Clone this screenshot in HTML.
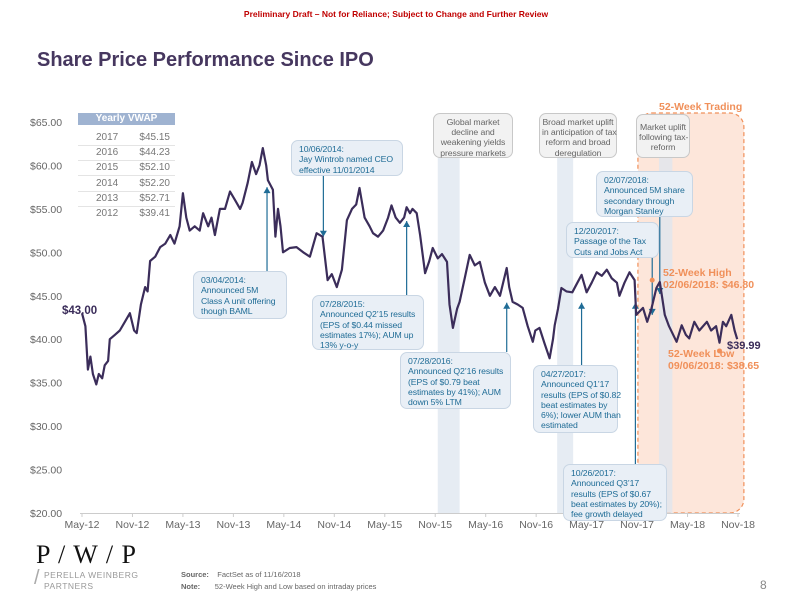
<!DOCTYPE html>
<html><head><meta charset="utf-8">
<style>
body{margin:0;width:792px;height:612px;position:relative;background:#fff;font-family:"Liberation Sans",sans-serif;overflow:hidden}
.a{position:absolute}
.box{position:absolute;background:#e9eff6;border:1px solid #c9d6e4;border-radius:7px;color:#1f6c96;font-size:8.7px;line-height:10.3px;padding:3px 5px 3px 7px;box-sizing:border-box;white-space:nowrap;letter-spacing:-0.1px}
.gbox{position:absolute;background:#f2f2f2;border:1px solid #c8c8c8;border-radius:7px;color:#666;font-size:8.7px;line-height:10.2px;text-align:center;padding:3px 2px;box-sizing:border-box;white-space:nowrap;letter-spacing:-0.1px}
.org{color:#f0905a;font-weight:bold;font-size:10.5px;position:absolute;line-height:12px;white-space:nowrap}
</style></head><body>
<div class="a" style="left:0;width:792px;top:9px;text-align:center;color:#c00000;font-weight:bold;font-size:8.5px">Preliminary Draft – Not for Reliance; Subject to Change and Further Review</div>
<div class="a" style="left:37px;top:49px;color:#46375f;font-weight:bold;font-size:20px">Share Price Performance Since IPO</div>

<svg class="a" style="left:0;top:0" width="792" height="612" id="chart"></svg>

<div class="a" style="left:78px;top:113px;width:97px;height:12px;background:#9fb3d1;color:#fff;font-weight:bold;font-size:10px;line-height:12px;text-align:center">Yearly VWAP</div>
<div id="vwap"></div>

<div class="a" style="left:62px;top:305px;font-weight:bold;font-size:11.5px;color:#3b2d5a">$43.00</div>
<div class="a" style="left:727px;top:340px;font-weight:bold;font-size:11px;color:#3b2d5a">$39.99</div>

<div class="org" style="left:659px;top:101px">52-Week Trading</div>
<div class="org" style="left:663px;top:267px">52-Week High<br>02/06/2018: $46.80</div>
<div class="org" style="left:668px;top:348px">52-Week Low<br>09/06/2018: $38.65</div>

<div class="gbox" style="left:433px;top:113px;width:80px;height:45px">Global market<br>decline and<br>weakening yields<br>pressure markets</div>
<div class="gbox" style="left:539px;top:113px;width:78px;height:45px">Broad market uplift<br>in anticipation of tax<br>reform and broad<br>deregulation</div>
<div class="gbox" style="left:636px;top:114px;width:54px;height:44px;padding-top:7px">Market uplift<br>following tax-<br>reform</div>

<div class="box" style="left:193px;top:271px;width:94px;height:48px">03/04/2014:<br>Announced 5M<br>Class A unit offering<br>though BAML</div>
<div class="box" style="left:291px;top:140px;width:112px;height:36px">10/06/2014:<br>Jay Wintrob named CEO<br>effective 11/01/2014</div>
<div class="box" style="left:312px;top:295px;width:112px;height:55px">07/28/2015:<br>Announced Q2’15 results<br>(EPS of $0.44 missed<br>estimates 17%); AUM up<br>13% y-o-y</div>
<div class="box" style="left:400px;top:352px;width:111px;height:57px">07/28/2016:<br>Announced Q2’16 results<br>(EPS of $0.79 beat<br>estimates by 41%); AUM<br>down 5% LTM</div>
<div class="box" style="left:533px;top:365px;width:85px;height:68px">04/27/2017:<br>Announced Q1’17<br>results (EPS of $0.82<br>beat estimates by<br>6%); lower AUM than<br>estimated</div>
<div class="box" style="left:563px;top:464px;width:104px;height:57px">10/26/2017:<br>Announced Q3’17<br>results (EPS of $0.67<br>beat estimates by 20%);<br>fee growth delayed</div>
<div class="box" style="left:566px;top:222px;width:93px;height:36px">12/20/2017:<br>Passage of the Tax<br>Cuts and Jobs Act</div>
<div class="box" style="left:596px;top:171px;width:97px;height:46px">02/07/2018:<br>Announced 5M share<br>secondary through<br>Morgan Stanley</div>

<div class="a" style="left:36px;top:540px;font-family:'Liberation Serif',serif;font-size:26px;color:#111;letter-spacing:1px">P / W / P</div>
<div class="a" style="left:44px;top:570px;font-size:8.5px;color:#999;letter-spacing:0.5px;line-height:11px">PERELLA WEINBERG<br>PARTNERS</div>
<div class="a" style="left:34px;top:567px;font-size:20px;color:#aaa">/</div>
<div class="a" style="left:181px;top:569px;font-size:7.5px;color:#666;line-height:12px"><b>Source:</b>&nbsp;&nbsp;&nbsp;&nbsp;FactSet as of 11/16/2018<br><b>Note:</b>&nbsp;&nbsp;&nbsp;&nbsp;&nbsp;&nbsp;&nbsp;52-Week High and Low based on intraday prices</div>
<div class="a" style="left:760px;top:578px;font-size:12px;color:#888">8</div>

<script>
const vwapYears=["2017","2016","2015","2014","2013","2012"];
const vwapValues=["$45.15","$44.23","$52.10","$52.20","$52.71","$39.41"];
const yTicks=[20,25,30,35,40,45,50,55,60,65];
const xTickLabels=["May-12","Nov-12","May-13","Nov-13","May-14","Nov-14","May-15","Nov-15","May-16","Nov-16","May-17","Nov-17","May-18","Nov-18"];
const months=[0,0.4,0.7,1.0,1.3,1.7,2.0,2.4,2.7,3.1,3.3,3.9,4.5,5.1,5.7,6.2,6.5,7.0,7.5,7.8,8.1,8.7,9.3,9.9,10.5,11.0,11.6,12.0,12.4,12.8,13.4,14.0,14.4,15.0,15.4,15.8,16.4,17.0,17.6,18.2,18.8,19.1,19.7,20.2,20.7,21.1,21.5,21.9,22.1,22.7,23.0,23.3,23.6,23.9,24.7,25.5,26.3,27.1,27.9,28.6,29.2,29.7,30.3,30.9,31.5,32.1,32.6,33.0,33.6,34.2,34.6,35.2,35.8,36.4,36.8,37.3,37.8,38.3,38.6,39.0,39.3,39.8,40.2,40.8,41.3,41.7,42.3,42.8,43.4,43.7,44.1,44.6,44.9,45.5,46.1,46.7,47.3,47.9,48.5,49.1,49.7,50.5,50.8,51.2,51.8,52.4,53.0,53.6,53.9,54.4,55.0,55.6,56.0,56.2,56.6,57.0,57.6,58.3,58.9,59.4,60.0,60.6,61.2,61.8,62.4,63.0,63.6,63.9,64.5,65.1,65.7,65.9,66.7,67.2,67.7,68.3,68.7,69.3,69.8,70.7,71.3,71.8,72.2,72.8,73.4,74.3,74.8,75.4,75.8,76.2,76.6,77.2,77.6,77.9];
const prices=[43,41.5,36.5,38,36,34.8,36,35.5,37,37.5,40,40.5,41,42,43,41,40.7,44,46,45.5,49,49.5,50.6,51,52,51,53,56.8,54,52.5,53,52.5,54.5,53,54,52,55,55,57,56,55,55.7,58,60.4,59,60,62,60,58.3,57.2,51.8,55,53,50,50.5,50.6,50,49.5,52.2,51.8,46.8,47.5,46,48,53.7,55,55.5,57.4,54,53,52.2,51.8,52.5,54,55.4,54,53.4,54,55.2,54.5,55,54.5,52,47.6,49,50.5,49.3,49.8,48.9,44,41.3,43.5,44.3,47,49.7,48.5,48.9,46.5,45,46,45,48.2,46,44.3,44,43.6,41.5,39.7,41,41.3,39.5,37.8,40,41.6,43.5,45.9,45.5,45.4,46.5,47.4,45.4,46.5,47.7,47.3,48,47,46.5,45,46.5,47.7,46.8,42.8,43.6,42,43.5,45.9,46.6,42.8,41.5,39.7,41.6,40.5,40.1,42,41,42,41,41.5,39.6,42,41.5,42.8,41,40];
const bandStarts=[42.3,56.5,68.6];
const bandEnds=[44.9,58.4,70.2];
const eventMonths=[22.0,28.7,38.6,50.5,59.4,65.8,67.8,68.7];
const eventPrices=[57.5,51.8,53.6,44.2,44.2,44.2,42.8,45.2];
const eventDir=["up","down","up","up","up","up","down","down"];
const eventEnds=[271,176,295,352,365,464,258,217];

const X=m=>82+m*(656/78);
const Y=p=>513-(p-20)*(391/45);
const svg=document.getElementById('chart');
const NS="http://www.w3.org/2000/svg";
function mk(t,a){const e=document.createElementNS(NS,t);for(const k in a)e.setAttribute(k,a[k]);svg.appendChild(e);return e;}

const region=mk('rect',{x:X(66.1),y:113,width:X(78.7)-X(66.1),height:400,rx:14,fill:'#fde6da',stroke:'#f0905a','stroke-dasharray':'4,3','stroke-width':1.2});



bandStarts.forEach((s,i)=>{
  const b=mk('rect',{x:X(s),y:158,width:X(bandEnds[i])-X(s),height:355,fill:'#dde5ef',opacity:0.75});
  
  
});

yTicks.forEach(v=>{
  const t=mk('text',{x:30,y:Y(v)+4,'font-size':10.5,fill:'#666','font-family':'Liberation Sans'});
  t.textContent='$'+v.toFixed(2);
  
  
});
const ax=mk('line',{x1:80,x2:740,y1:513.5,y2:513.5,stroke:'#ccc','stroke-width':1});


xTickLabels.forEach((l,i)=>{
  const m=i*6;
  mk('line',{x1:X(m),x2:X(m),y1:513,y2:517,stroke:'#ccc'});
  const t=mk('text',{x:X(m),y:528,'font-size':10.5,fill:'#666','text-anchor':'middle','font-family':'Liberation Sans'});
  t.textContent=l;
  
  
});

eventMonths.forEach((m,i)=>{
  const x=X(m),ty=Y(eventPrices[i]),e=eventEnds[i];
  const ln=mk('line',{x1:x,x2:x,y1:e,y2:ty,stroke:'#1f6c96','stroke-width':1.2});
  
  
  if(eventDir[i]=='up') mk('path',{d:`M${x-3.5},${ty+6}L${x+3.5},${ty+6}L${x},${ty}Z`,fill:'#1f6c96'});
  else mk('path',{d:`M${x-3.5},${ty-6}L${x+3.5},${ty-6}L${x},${ty}Z`,fill:'#1f6c96'});
});

const pl=mk('polyline',{points:months.map((m,i)=>X(m).toFixed(1)+','+Y(prices[i]).toFixed(1)).join(' '),fill:'none',stroke:'#3b2d5a','stroke-width':2.2,'stroke-linejoin':'round'});


[[67.8,46.8],[75.8,38.65]].forEach(p=>{
  const c=mk('circle',{cx:X(p[0]),cy:Y(p[1]),r:2.5,fill:'#f0905a'});
  
  
});

const vt=document.getElementById('vwap');
vwapYears.forEach((y,i)=>{
  const top=130+i*15.2;
  const r=document.createElement('div');
  r.className='a';
  
  
  r.style.cssText=`left:78px;top:${top}px;width:97px;height:15px;border-bottom:${i<5?'1px solid #e4e4e4':'none'};font-size:10px;color:#777;line-height:15px`;
  r.innerHTML=`<span style="position:absolute;left:18px">${y}</span><span style="position:absolute;right:5px">${vwapValues[i]}</span>`;
  vt.appendChild(r);
});
</script>
</body></html>
